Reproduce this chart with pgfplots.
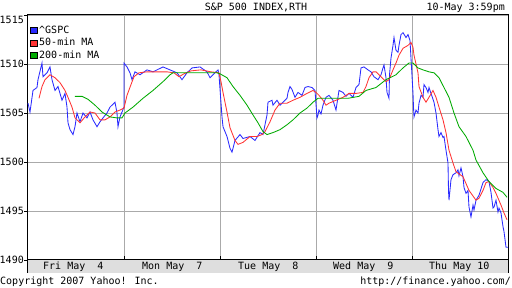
\documentclass[border=0pt]{standalone}
\usepackage{fontspec}
\setmainfont{DejaVu Sans Mono}
\usepackage{pgfplots}
\pgfplotsset{compat=1.18}
\definecolor{gblue}{HTML}{2A2AFF}
\definecolor{gred}{HTML}{FF3333}
\definecolor{ggreen}{HTML}{00AA00}
\definecolor{gridgray}{HTML}{AAAAAA}
\definecolor{bandgray}{HTML}{DEDEDE}
\begin{document}
\fontsize{10}{12}\selectfont
\begin{tikzpicture}[x=1pt,y=1pt]
\useasboundingbox (0,0) rectangle (512,-288);
\begin{axis}[
  at={(28pt,-273pt)}, anchor=south west,
  scale only axis, width=480pt, height=258pt,
  xmin=0, xmax=480, ymin=1488.673, ymax=1515,
  axis line style={black, line width=1pt},
  xtick=\empty,
  ytick={1490,1495,1500,1505,1510}, ymajorgrids,
  extra y ticks={1515}, extra y tick style={yticklabel style={yshift=-5pt}},
  ytick pos=left, tick align=outside, major tick length=4pt,
  ytick style={black, line width=0.8pt},
  grid style={gridgray, line width=0.9pt},
  yticklabel style={inner xsep=0pt, font=\fontsize{10}{12}\selectfont},
  /pgf/number format/assume math mode=true,
  /pgf/number format/1000 sep={},
  clip=false,
  legend cell align=left,
  legend image code/.code={\draw[#1,fill,draw=black,line width=0.5pt] (0pt,-3.2pt) rectangle (6.4pt,3.2pt);},
  legend style={draw=none, fill=none, at={(0,1)}, anchor=north west, xshift=2pt, yshift=-10pt,
    inner sep=0pt, row sep=1.8pt, column sep=1.5pt, font=\fontsize{10}{12}\selectfont,
    nodes={inner sep=0.6pt, text height=7.5pt, text depth=2pt}},
  every axis plot/.append style={line width=0.85pt, mark=none},
]
\draw[gridgray, line width=0.9pt] (axis cs:96,1490) -- (axis cs:96,1515);
\draw[gridgray, line width=0.9pt] (axis cs:192,1490) -- (axis cs:192,1515);
\draw[gridgray, line width=0.9pt] (axis cs:288,1490) -- (axis cs:288,1515);
\draw[gridgray, line width=0.9pt] (axis cs:384,1490) -- (axis cs:384,1515);
\addplot[color=gblue] coordinates {
(0,1506.0)(2,1505.1)(5,1507.3)(9,1507.6)(10,1508.4)(14,1510.1)(15,1508.7)(19,1509.1)(22,1509.7)(24,1508.4)(27,1507.3)(30,1507.7)(34,1506.3)(37,1507.0)(39,1505.6)(40,1504.0)(42,1503.3)(45,1502.8)(47,1503.6)(49,1505.0)(52,1504.1)(55,1505.0)(59,1504.5)(62,1505.1)(65,1504.3)(69,1503.6)(72,1504.1)(75,1504.5)(79,1505.0)(82,1505.6)(87,1506.1)(89,1505.0)(90,1503.6)(92,1504.6)(94,1505.1)(96,1505.6)
(96,1510.1)(99,1509.7)(102,1509.1)(104,1508.4)(107,1509.2)(112,1508.9)(119,1509.4)(125,1509.2)(135,1509.7)(142,1509.4)(149,1509.1)(154,1508.4)(159,1509.1)(164,1509.6)(172,1509.7)(179,1509.2)(182,1508.6)(187,1509.1)(190,1509.4)(191,1508.9)
(194,1504.6)(195,1503.6)(199,1502.6)(202,1501.4)(204,1501.0)(207,1502.2)(212,1502.8)(215,1502.4)(222,1502.6)(227,1502.2)(232,1503.0)(235,1502.8)(239,1504.8)(240,1506.1)(244,1506.3)(245,1505.8)(249,1506.3)(252,1505.8)(255,1506.1)(259,1506.5)(260,1507.1)(262,1507.7)(264,1507.4)(267,1506.6)(270,1507.1)(274,1506.8)(277,1507.6)(280,1507.7)(284,1507.6)(287,1507.3)(289,1504.5)
(290,1504.8)(291,1505.3)(293,1504.9)(295,1505.8)(298,1506.6)(301,1506.8)(305,1506.3)(308,1505.3)(311,1507.3)(315,1507.1)(318,1506.7)(321,1507.0)(325,1506.6)(328,1507.6)(331,1507.9)(333,1509.6)(336,1509.7)(340,1509.4)(343,1509.2)(346,1508.7)(350,1508.4)(353,1508.9)(355,1509.6)(356,1509.9)(358,1508.6)(359,1507.1)(361,1506.5)(361.5,1508.9)(363,1510.6)(365,1511.9)(366,1512.7)(368,1511.4)(370,1511.2)(371,1511.9)(373,1513.0)(375,1513.2)(378,1512.7)(380,1513.0)(382,1512.4)
(385,1507.0)(385.5,1505.6)(386,1504.6)(388,1505.3)(390,1505.0)(391,1506.0)(393,1506.8)(395,1506.6)(396,1507.9)(398,1507.6)(400,1507.1)(401,1507.6)(403,1507.0)(406,1506.1)(408,1505.0)(410,1503.3)(411,1502.6)(413,1503.0)(415,1502.5)(416,1502.6)(418,1501.2)(420,1499.9)(420.5,1497.1)(421,1496.1)(423,1498.2)(425,1498.7)(428,1498.9)(430,1499.2)(431,1498.6)(433,1499.4)(435,1498.5)(436,1497.4)(438,1496.8)(440,1497.1)(441,1495.4)(443,1494.4)(445,1495.6)(446,1495.1)(448,1496.1)(451,1496.6)(455,1497.9)(458,1498.2)(461,1498.0)(463,1496.9)(465,1495.3)(466,1495.4)(468,1496.1)(470,1494.9)(471,1495.3)(473,1494.8)(475,1493.4)(476,1492.9)(478,1491.3)(480,1491.3)
};
\addlegendentry{\textasciicircum GSPC}
\addplot[color=gred] coordinates {
(11,1506.5)(14,1507.7)(17,1508.4)(22,1508.9)(27,1508.6)(32,1508.1)(37,1507.3)(40,1506.6)(44,1505.6)(47,1504.5)(52,1504.0)(57,1504.6)(62,1505.1)(67,1505.0)(72,1504.3)(77,1504.3)(82,1504.6)(87,1505.1)(92,1505.3)(96,1505.5)(99,1506.8)(103,1507.9)(106,1508.7)(111,1509.1)(119,1509.2)(129,1509.2)(139,1509.2)(146,1509.1)(151,1508.7)(156,1509.0)(163,1509.3)(173,1509.4)(183,1509.2)(191,1509.1)(193,1508.2)(195,1507.1)(199,1505.1)(202,1503.5)(207,1502.2)(210,1501.8)(215,1502.0)(222,1502.6)(229,1502.6)(234,1502.8)(237,1503.1)(242,1504.1)(247,1505.3)(252,1506.0)(259,1506.0)(265,1506.3)(272,1506.6)(279,1507.0)(285,1507.3)(288,1507.1)(291,1506.8)(295,1506.3)(298,1505.8)(301,1506.0)(308,1506.3)(315,1506.6)(321,1507.0)(328,1507.0)(335,1507.1)(338,1507.7)(341,1508.6)(345,1509.2)(348,1509.2)(353,1508.7)(358,1508.2)(361,1508.4)(365,1509.4)(368,1510.1)(371,1510.9)(375,1511.6)(380,1511.9)(383,1512.2)(385,1511.7)(386,1510.9)(390,1509.1)(391,1507.7)(395,1506.6)(398,1506.1)(401,1506.6)(405,1507.3)(408,1506.6)(411,1505.6)(415,1504.3)(418,1503.0)(421,1501.2)(425,1499.9)(428,1499.0)(435,1498.5)(441,1497.1)(448,1496.1)(451,1496.3)(455,1497.1)(458,1497.9)(461,1498.0)(465,1497.4)(468,1496.8)(473,1495.6)(476,1494.8)(479,1494.1)
};
\addlegendentry{50-min MA}
\addplot[color=ggreen] coordinates {
(47,1506.7)(54,1506.7)(60,1506.4)(67,1505.8)(74,1505.1)(82,1504.6)(89,1504.5)(94,1504.5)(97,1505.0)(105,1505.6)(115,1506.5)(125,1507.3)(135,1508.2)(142,1508.9)(145,1509.1)(159,1509.1)(172,1509.1)(189,1509.1)(192,1509.0)(199,1508.6)(205,1507.7)(212,1506.8)(219,1505.8)(225,1504.8)(230,1504.0)(235,1503.1)(239,1502.8)(245,1503.0)(252,1503.3)(259,1503.8)(265,1504.3)(272,1505.0)(279,1505.5)(285,1506.1)(290,1506.5)(300,1506.5)(310,1506.5)(320,1506.5)(331,1506.7)(338,1507.3)(348,1507.6)(358,1508.4)(368,1508.9)(375,1509.6)(381,1510.1)(385,1510.1)(390,1509.6)(395,1509.4)(401,1509.2)(406,1509.1)(411,1508.6)(416,1507.6)(421,1506.6)(426,1505.0)(431,1503.6)(438,1502.6)(445,1501.2)(448,1500.2)(455,1498.9)(461,1498.0)(468,1497.3)(475,1496.9)(479,1496.4)
};
\addlegendentry{200-min MA}
\fill[bandgray] (axis cs:0,1488.673) rectangle (axis cs:480,1490);
\draw[black, line width=1pt] (axis cs:0,1490) -- (axis cs:480,1490);
\draw[black, line width=0.9pt] (axis cs:96,1490) -- (axis cs:96,1490.41);
\draw[black, line width=0.9pt] (axis cs:192,1490) -- (axis cs:192,1490.41);
\draw[black, line width=0.9pt] (axis cs:288,1490) -- (axis cs:288,1490.41);
\draw[black, line width=0.9pt] (axis cs:384,1490) -- (axis cs:384,1490.41);
\node[anchor=base west, inner sep=0pt] at (axis cs:15,1489.03) {Fri May~~4};
\node[anchor=base west, inner sep=0pt] at (axis cs:114,1489.03) {Mon May~~7};
\node[anchor=base west, inner sep=0pt] at (axis cs:210,1489.03) {Tue May~~8};
\node[anchor=base west, inner sep=0pt] at (axis cs:305,1489.03) {Wed May~~9};
\node[anchor=base west, inner sep=0pt] at (axis cs:401,1489.03) {Thu May 10};
\end{axis}
\node[anchor=base, inner sep=0pt] at (256,-11) {S\&P 500 INDEX,RTH};
\node[anchor=base east, inner sep=0pt] at (505,-11) {10-May 3:59pm};
\node[anchor=base west, inner sep=0pt] at (0,-285) {Copyright 2007 Yahoo! Inc.};
\node[anchor=base east, inner sep=0pt] at (511,-285) {http://finance.yahoo.com/};
\end{tikzpicture}
\end{document}
